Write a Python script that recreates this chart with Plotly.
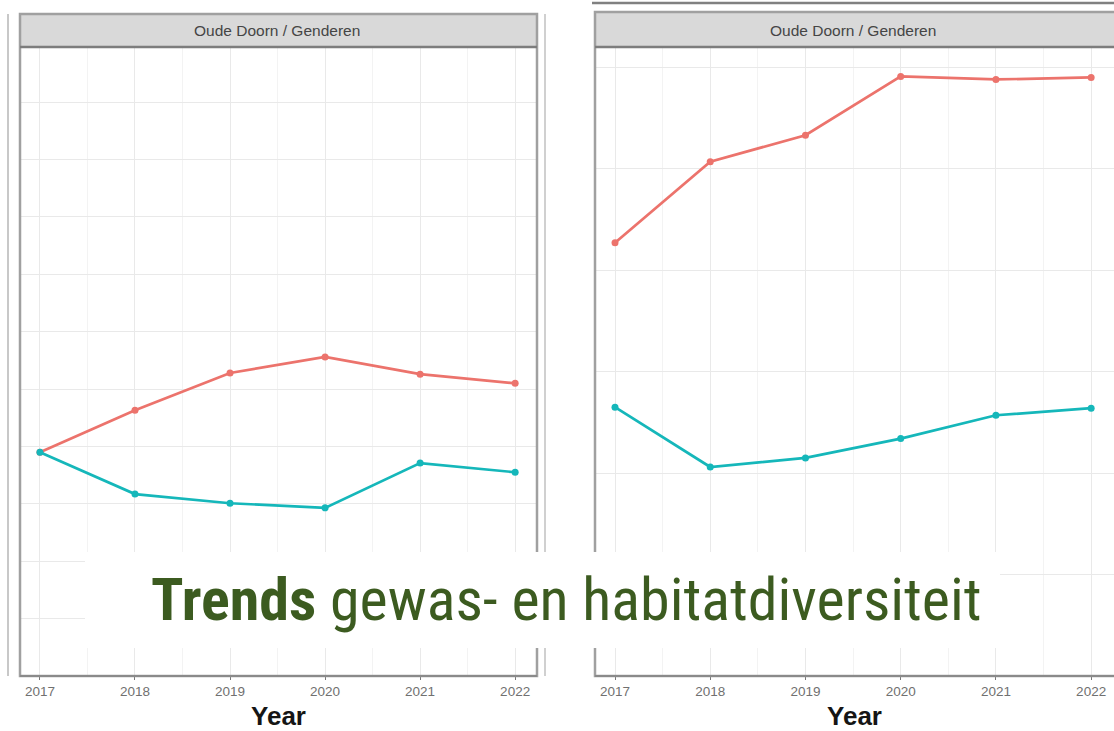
import plotly.graph_objects as go

# ---------------- data ----------------
years = [2017, 2018, 2019, 2020, 2021, 2022]
tick_labels = ["2017", "2018", "2019", "2020", "2021", "2022"]
left_red = [3.90, 4.63, 5.28, 5.56, 5.26, 5.10]
left_teal = [3.90, 3.17, 3.01, 2.93, 3.71, 3.55]
right_red = [4.27, 5.07, 5.33, 5.91, 5.88, 5.90]
right_teal = [2.65, 2.06, 2.15, 2.34, 2.57, 2.64]
panel_title = "Oude Doorn / Genderen"
x_title = "Year"
headline_bold = "Trends"
headline_rest = "gewas- en habitatdiversiteit"

# ---------------- styling ----------------
W, H = 1114, 731
RED = "#EC736C"
TEAL = "#15B7BA"
GREEN = "#3c5b20"


def fx(p):
    return p / W


def fy(p):
    return 1 - p / H


fig = go.Figure()

for xa, ya, red, teal in (("x", "y", left_red, left_teal), ("x2", "y2", right_red, right_teal)):
    fig.add_trace(go.Scatter(x=years, y=red, xaxis=xa, yaxis=ya, mode="lines+markers",
                             line=dict(color=RED, width=2.7), marker=dict(size=7, color=RED),
                             showlegend=False, hoverinfo="skip"))
    fig.add_trace(go.Scatter(x=years, y=teal, xaxis=xa, yaxis=ya, mode="lines+markers",
                             line=dict(color=TEAL, width=2.7), marker=dict(size=7, color=TEAL),
                             showlegend=False, hoverinfo="skip"))

xcommon = dict(
    tickmode="array", tickvals=years, ticktext=tick_labels,
    showgrid=True, gridcolor="#e9e9e9", gridwidth=1.3,
    minor=dict(showgrid=True, gridcolor="#f3f3f3", gridwidth=1, dtick=0.5, tick0=2016.5),
    ticks="outside", ticklen=3, tickcolor="#777", tickwidth=1.2,
    tickfont=dict(family="Liberation Sans, Arial, sans-serif", size=13.5, color="#707070"),
    showline=False, zeroline=False,
    title=dict(text=x_title, standoff=10,
               font=dict(family="Liberation Sans, Arial, sans-serif", size=26, color="#151515", weight="bold")),
)
ycommon = dict(showticklabels=False, ticks="", showgrid=True, gridcolor="#e9e9e9", gridwidth=1.3,
               dtick=1, tick0=0, zeroline=False, showline=False)

fig.update_layout(
    width=W, height=H,
    margin=dict(l=0, r=0, t=0, b=0),
    paper_bgcolor="white", plot_bgcolor="white",
    xaxis=dict(domain=[fx(20), fx(537)], range=[2016.79, 2022.23], anchor="y", **xcommon),
    xaxis2=dict(domain=[fx(595), 1.0], range=[2016.79, 2022.24], anchor="y2", **xcommon),
    yaxis=dict(domain=[fy(676), fy(47)], range=[0, 10.96], anchor="x", **ycommon),
    yaxis2=dict(domain=[fy(676), fy(47)], range=[0, 6.2], anchor="x2", **ycommon),
)

shapes = []
# left panel frame
shapes.append(dict(type="line", xref="paper", yref="paper", x0=fx(8), x1=fx(8), y0=fy(14), y1=fy(676),
                   line=dict(color="#c8c8c8", width=2)))
shapes.append(dict(type="line", xref="paper", yref="paper", x0=fx(545), x1=fx(545), y0=fy(14), y1=fy(676),
                   line=dict(color="#d0d0d0", width=2)))
shapes.append(dict(type="rect", xref="paper", yref="paper", x0=fx(20), x1=fx(537), y0=fy(14), y1=fy(47),
                   fillcolor="#d9d9d9", line=dict(color="#a8a8a8", width=2)))
shapes.append(dict(type="rect", xref="paper", yref="paper", x0=fx(20), x1=fx(537), y0=fy(676), y1=fy(14),
                   fillcolor="rgba(0,0,0,0)", line=dict(color="#a0a0a0", width=2.5)))
shapes.append(dict(type="line", xref="paper", yref="paper", x0=fx(20), x1=fx(537), y0=fy(47), y1=fy(47),
                   line=dict(color="#7d7d7d", width=2.5)))
shapes.append(dict(type="line", xref="paper", yref="paper", x0=fx(20), x1=fx(537), y0=fy(676), y1=fy(676),
                   line=dict(color="#8a8a8a", width=2)))
# right panel frame
shapes.append(dict(type="line", xref="paper", yref="paper", x0=fx(592), x1=1.0, y0=fy(3), y1=fy(3),
                   line=dict(color="#808080", width=2.5)))
shapes.append(dict(type="rect", xref="paper", yref="paper", x0=fx(595), x1=fx(1120), y0=fy(12), y1=fy(47),
                   fillcolor="#d9d9d9", line=dict(color="#a8a8a8", width=2)))
shapes.append(dict(type="rect", xref="paper", yref="paper", x0=fx(595), x1=fx(1120), y0=fy(676), y1=fy(12),
                   fillcolor="rgba(0,0,0,0)", line=dict(color="#a0a0a0", width=2.5)))
shapes.append(dict(type="line", xref="paper", yref="paper", x0=fx(595), x1=1.0, y0=fy(47), y1=fy(47),
                   line=dict(color="#7d7d7d", width=2.5)))
shapes.append(dict(type="line", xref="paper", yref="paper", x0=fx(595), x1=1.0, y0=fy(676), y1=fy(676),
                   line=dict(color="#8a8a8a", width=2)))
# headline white box
shapes.append(dict(type="rect", xref="paper", yref="paper", x0=fx(85), x1=fx(1000), y0=fy(648), y1=fy(552),
                   fillcolor="white", line=dict(width=0), layer="above"))
fig.update_layout(shapes=shapes)

annotations = [
    dict(text=panel_title, xref="paper", yref="paper", x=fx(277), y=fy(31),
         xanchor="center", yanchor="middle", showarrow=False,
         font=dict(family="Liberation Sans, Arial, sans-serif", size=15.5, color="#454545")),
    dict(text=panel_title, xref="paper", yref="paper", x=fx(853), y=fy(30),
         xanchor="center", yanchor="middle", showarrow=False,
         font=dict(family="Liberation Sans, Arial, sans-serif", size=15.5, color="#454545")),
    dict(text="<b>" + headline_bold + "</b> " + headline_rest, xref="paper", yref="paper",
         x=fx(566), y=fy(599), xanchor="center", yanchor="middle", showarrow=False,
         font=dict(family="Liberation Sans Narrow, Arial Narrow, Roboto Condensed, Liberation Sans, sans-serif",
                   size=60, color=GREEN)),
]
fig.update_layout(annotations=annotations)

fig.write_html("out.html", config={"displayModeBar": False},
               post_script="document.body.style.margin='0';document.body.style.overflow='hidden';")
